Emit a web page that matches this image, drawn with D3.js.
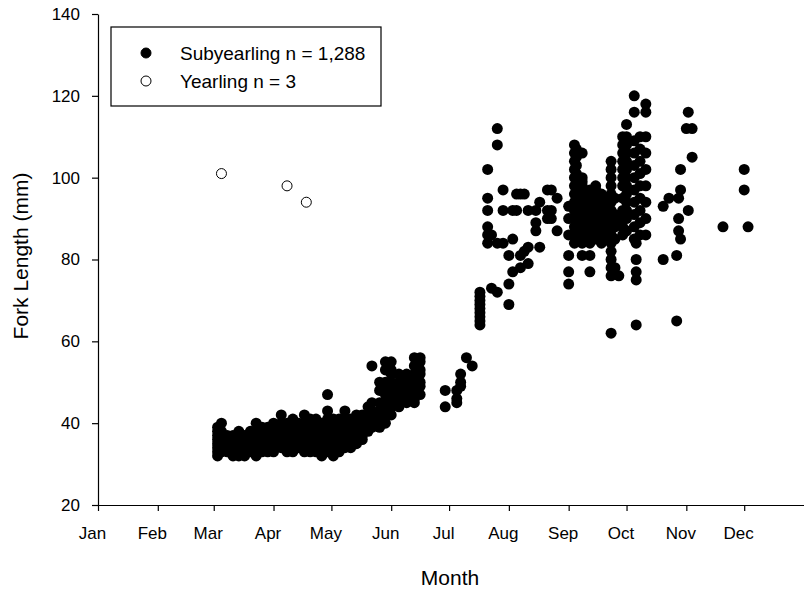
<!DOCTYPE html>
<html>
<head>
<meta charset="utf-8">
<script src="https://cdn.jsdelivr.net/npm/d3@7"></script>
<style>
  body { margin: 0; background: #fff; }
  text { font-family: "Liberation Sans", Arial, sans-serif; fill: #000; }
</style>
</head>
<body>
<div id="chart-area"></div>
<script>
const MARGIN = { LEFT: 98, RIGHT: 0, TOP: 14, BOTTOM: 87 }
const WIDTH = 804 - MARGIN.LEFT - MARGIN.RIGHT
const HEIGHT = 592 - MARGIN.TOP - MARGIN.BOTTOM

const monthLabels = ["Jan", "Feb", "Mar", "Apr", "May", "Jun", "Jul", "Aug", "Sep", "Oct", "Nov", "Dec"]
const yTicks = [20, 40, 60, 80, 100, 120, 140]

// subyearling: sampling date -> fork lengths seen that day
const subDates = [
  "2008-03-03", "2008-03-05", "2008-03-08", "2008-03-11", "2008-03-14", "2008-03-17",
  "2008-03-20", "2008-03-23", "2008-03-26", "2008-03-29", "2008-04-01", "2008-04-05",
  "2008-04-08", "2008-04-11", "2008-04-14", "2008-04-17", "2008-04-20", "2008-04-23",
  "2008-04-26", "2008-04-29", "2008-05-02", "2008-05-05", "2008-05-08", "2008-05-11",
  "2008-05-14", "2008-05-17", "2008-05-20", "2008-05-22", "2008-05-26", "2008-05-29",
  "2008-06-01", "2008-06-05", "2008-06-09", "2008-06-13", "2008-06-16",
  "2008-06-29", "2008-07-05", "2008-07-07", "2008-07-10", "2008-07-13", "2008-07-17",
  "2008-07-21", "2008-07-23", "2008-07-26", "2008-07-29", "2008-08-01", "2008-08-03",
  "2008-08-05", "2008-08-07", "2008-08-09", "2008-08-11", "2008-08-15", "2008-08-17",
  "2008-08-21", "2008-08-23", "2008-08-26",
  "2008-09-01", "2008-09-04", "2008-09-05", "2008-09-08", "2008-09-12", "2008-09-15",
  "2008-09-18", "2008-09-20", "2008-09-23", "2008-09-25", "2008-09-27", "2008-09-29",
  "2008-10-01", "2008-10-05", "2008-10-06", "2008-10-08", "2008-10-11",
  "2008-10-20", "2008-10-23", "2008-10-27", "2008-10-28", "2008-10-29",
  "2008-11-01", "2008-11-02", "2008-11-04", "2008-11-20", "2008-12-01", "2008-12-03"
]

const subLengths = [
  [32, 33, 34, 35, 36, 37, 38, 39], [33, 34, 35, 36, 37, 38, 40], [33, 34, 35, 36, 37],
  [32, 33, 34, 35, 36, 37], [32, 33, 34, 35, 36, 37, 38], [32, 33, 34, 35, 36, 37],
  [33, 34, 35, 36, 37, 38], [32, 33, 34, 35, 36, 37, 38, 40], [33, 34, 35, 36, 37, 38, 39],
  [33, 34, 35, 36, 37, 38, 39], [33, 34, 35, 36, 37, 38, 39, 40], [34, 35, 36, 37, 38, 39, 40, 42],
  [33, 34, 35, 36, 37, 38, 40], [33, 34, 35, 36, 37, 38, 39, 40, 41], [34, 35, 36, 37, 38, 39, 40],
  [33, 34, 35, 36, 37, 38, 39, 40, 42], [33, 34, 35, 36, 37, 38, 39, 40, 41], [33, 34, 35, 36, 37, 38, 39, 40, 41],
  [32, 33, 34, 35, 36, 37, 38, 39, 40], [33, 34, 35, 36, 37, 38, 39, 40, 41, 43, 47], [32, 33, 34, 35, 36, 37, 38, 39, 40, 41],
  [33, 34, 35, 36, 37, 38, 39, 40, 41], [34, 35, 36, 37, 38, 39, 40, 41, 43], [34, 35, 36, 37, 38, 39, 40, 41],
  [35, 36, 37, 38, 39, 40, 41, 42], [36, 37, 38, 39, 40, 41, 42], [38, 39, 40, 42, 44],
  [39, 40, 41, 43, 45, 54], [39, 40, 42, 43, 45, 48, 50], [40, 42, 43, 45, 47, 48, 50, 53, 55],
  [42, 44, 45, 46, 48, 50, 52, 53, 55], [44, 46, 47, 48, 49, 50, 52], [45, 46, 47, 48, 50, 51, 52],
  [45, 46, 48, 49, 50, 52, 54, 56], [47, 49, 50, 52, 53, 55, 56],
  [44, 48], [45, 46, 48], [49, 50, 52], [56], [54], [64, 65, 66, 67, 68, 69, 70, 71, 72],
  [84, 86, 88, 92, 95, 102], [73, 86], [72, 84, 108, 112], [84, 92, 97], [69, 74, 81], [77, 85, 92],
  [92, 96], [78, 81, 96], [82, 96], [79, 83, 92], [87, 89, 92], [83, 94],
  [90, 92, 97], [90, 92, 97], [87, 95],
  [74, 77, 81, 86, 90, 93], [84, 86, 88, 90, 92, 94, 96, 98, 100, 102, 104, 106, 108],
  [85, 87, 89, 91, 93, 95, 97, 99, 101, 103, 105, 107],
  [81, 84, 85, 86, 87, 88, 89, 90, 91, 92, 93, 94, 95, 96, 97, 98, 99, 100, 106],
  [77, 81, 84, 86, 87, 88, 89, 90, 91, 92, 93, 94, 95, 96, 97],
  [85, 86, 87, 88, 89, 90, 91, 92, 93, 94, 95, 96, 97, 98],
  [84, 85, 86, 87, 88, 89, 90, 91, 92, 93, 94, 95, 96], [85, 87, 89, 91, 93, 95],
  [62, 76, 78, 80, 82, 84, 86, 88, 90, 92, 94, 96, 98, 100, 102, 104],
  [78, 85, 88, 91, 95], [76, 90], [86, 88, 90, 92, 95, 98, 100, 102, 104, 106, 108, 110],
  [87, 90, 92, 94, 96, 98, 100, 102, 104, 106, 108, 110, 113], [85, 88, 91, 94, 97, 100, 103, 106, 109, 116, 120],
  [64, 75, 77, 80, 84], [86, 89, 92, 95, 98, 101, 104, 107, 110], [86, 90, 94, 98, 102, 106, 110, 116, 118],
  [80, 93], [95], [65, 81], [87, 90, 95], [85, 97, 102],
  [112], [92, 116], [105, 112], [88], [97, 102], [88]
]

// yearling
const yearDates = ["2008-03-05", "2008-04-08", "2008-04-18"]
const yearLengths = [101, 98, 94]

const parseDate = d3.timeParse("%Y-%m-%d")

const subData = []
subDates.forEach((d, i) => {
  subLengths[i].forEach(v => subData.push({ date: parseDate(d), len: v }))
})
const yearData = yearDates.map((d, i) => ({ date: parseDate(d), len: yearLengths[i] }))

const svg = d3.select("#chart-area").append("svg")
  .attr("width", 804)
  .attr("height", 592)

const g = svg.append("g")
  .attr("transform", `translate(${MARGIN.LEFT}, ${MARGIN.TOP})`)

const x = d3.scaleTime()
  .domain([new Date(2008, 0, 1), new Date(2009, 0, 1)])
  .range([0, WIDTH])

const y = d3.scaleLinear()
  .domain([20, 140])
  .range([HEIGHT, 0])

const xAxisCall = d3.axisBottom(x)
  .tickValues(d3.timeMonth.range(new Date(2008, 0, 1), new Date(2009, 0, 1)))
  .tickFormat(d => monthLabels[d.getMonth()])
  .tickSize(6)
  .tickSizeOuter(0)
  .tickPadding(16)

const xAxisGroup = g.append("g")
  .attr("class", "x axis")
  .attr("transform", `translate(0, ${HEIGHT})`)
  .call(xAxisCall)

xAxisGroup.selectAll("text")
  .attr("x", -6)
  .attr("font-size", "17px")

const yAxisCall = d3.axisLeft(y)
  .tickValues(yTicks)
  .tickSize(6)
  .tickSizeOuter(0)
  .tickPadding(12)

const yAxisGroup = g.append("g")
  .attr("class", "y axis")
  .call(yAxisCall)

yAxisGroup.selectAll("text")
  .attr("font-size", "17px")

g.selectAll(".axis text").attr("font-family", "Liberation Sans, Arial, sans-serif")
g.selectAll(".axis path, .axis line").attr("stroke", "#000").attr("stroke-width", 1.2)

// points
g.selectAll("circle.sub")
  .data(subData)
  .enter().append("circle")
    .attr("class", "sub")
    .attr("cx", d => x(d.date))
    .attr("cy", d => y(d.len))
    .attr("r", 5.5)
    .attr("fill", "#000")

g.selectAll("circle.year")
  .data(yearData)
  .enter().append("circle")
    .attr("class", "year")
    .attr("cx", d => x(d.date))
    .attr("cy", d => y(d.len))
    .attr("r", 5)
    .attr("fill", "#fff")
    .attr("stroke", "#000")
    .attr("stroke-width", 1)

// axis titles
svg.append("text")
  .attr("x", 450)
  .attr("y", 585)
  .attr("font-size", "21px")
  .attr("text-anchor", "middle")
  .text("Month")

svg.append("text")
  .attr("transform", "translate(28, 256) rotate(-90)")
  .attr("font-size", "21px")
  .attr("text-anchor", "middle")
  .text("Fork Length (mm)")

// legend
const legend = svg.append("g")
legend.append("rect")
  .attr("x", 111).attr("y", 27)
  .attr("width", 270).attr("height", 79)
  .attr("fill", "#fff")
  .attr("stroke", "#000")
  .attr("stroke-width", 1.2)

const legendItems = [
  { label: "Subyearling n = 1,288", fill: "#000" },
  { label: "Yearling n = 3", fill: "#fff" }
]
legendItems.forEach((item, i) => {
  legend.append("circle")
    .attr("cx", 146).attr("cy", 53 + i * 28)
    .attr("r", 5)
    .attr("fill", item.fill)
    .attr("stroke", "#000")
    .attr("stroke-width", 1)
  legend.append("text")
    .attr("x", 180).attr("y", 60 + i * 28)
    .attr("font-size", "19px")
    .text(item.label)
})
</script>
</body>
</html>
